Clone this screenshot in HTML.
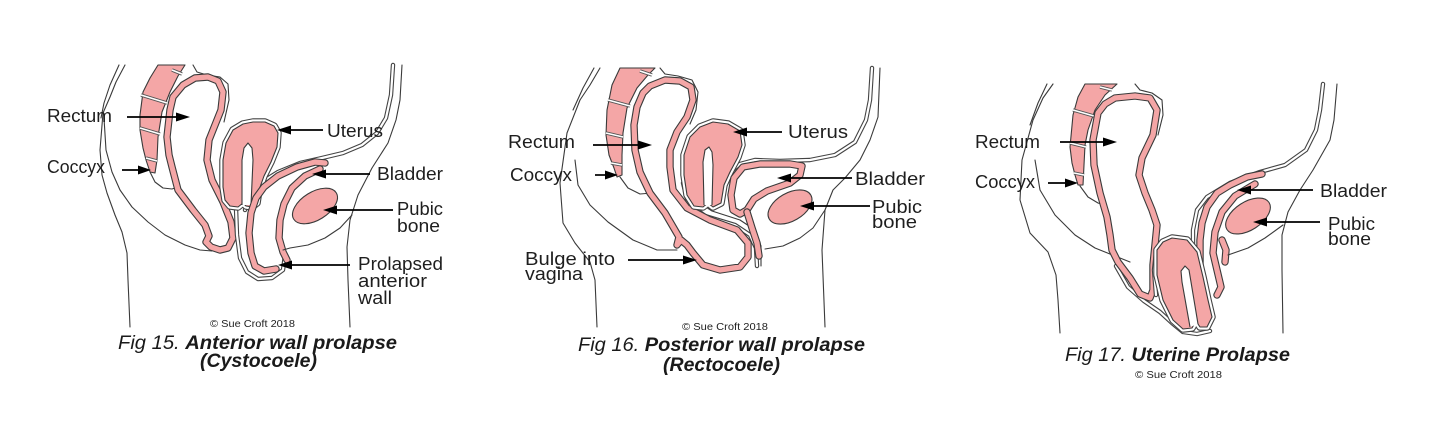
<!DOCTYPE html>
<html><head><meta charset="utf-8"><style>
html,body{margin:0;padding:0;background:#fff}
svg{display:block}
.ln{fill:none;stroke:#3a3a3a;stroke-width:1.1;stroke-linejoin:round;stroke-linecap:round}
.to{fill:none;stroke:#3a3a3a;stroke-width:7.4;stroke-linejoin:round;stroke-linecap:round}
.ti{fill:none;stroke:#f4a6a6;stroke-width:5.2;stroke-linejoin:round;stroke-linecap:round}
.d1{fill:none;stroke:#444;stroke-width:4.4;stroke-linejoin:round;stroke-linecap:round}
.d2{fill:none;stroke:#fff;stroke-width:2.2;stroke-linejoin:round;stroke-linecap:round}
.uo{fill:none;stroke:#444;stroke-width:7.5;stroke-linejoin:round}
.uw{fill:none;stroke:#fff;stroke-width:5.3;stroke-linejoin:round}
.pk{fill:#f4a6a6;stroke:#3a3a3a;stroke-width:1.1;stroke-linejoin:round}
.sl{fill:#fff;stroke:#3a3a3a;stroke-width:1.1;stroke-linejoin:round}
.sep1{stroke:#555;stroke-width:3.4;fill:none}
.sep2{stroke:#fff;stroke-width:1.6;fill:none}
.ar{stroke:#000;stroke-width:1.7;fill:none}
.ah{fill:#000}
.lb{font-family:"Liberation Sans",Arial,sans-serif;font-size:18px;fill:#1e1e1e}
.cp{font-family:"Liberation Sans",Arial,sans-serif;font-size:10px;fill:#222}
.fg{font-family:"Liberation Sans",Arial,sans-serif;font-size:19px;font-style:italic;fill:#1a1a1a}
.b{font-weight:bold}
</style></head><body>
<svg width="1442" height="429" viewBox="0 0 1442 429" xmlns="http://www.w3.org/2000/svg">
<rect width="1442" height="429" fill="#fff"/>
<defs>
<path id="r1" d="M173,97 L170,110 L167,137 L169,155 L172,167 L178,190 L193,210 L205,225 L209,236 L206,242 L211,247 L220,250 L228,248 L233,238 L231,222 L223,202 L212,180 L207,160 L209,140 L215,125 L221,110 L223,92 L218,81 L208,77 L195,78 L183,85 Z"/>
<path id="u1" d="M233,130 L243,124 L253,122 L265,122 L274,126 L278,133 L277,147 L271,162 L264,176 L259,190 L257,203 L252,207 L246,206 L243,203 L238,207 L230,206 L225,200 L223,187 L223,160 L226,143 Z"/>
<path id="r2" d="M643,93 L650,86 L665,80 L680,81 L691,87 L693,100 L687,117 L677,132 L670,150 L670,167 L673,190 L687,208 L710,220 L737,230 L748,243 L748,257 L740,267 L720,270 L703,265 L693,253 L687,245 L681,240 L677,245 L679,237 L665,213 L650,193 L640,172 L635,150 L634,125 L637,107 Z"/>
<path id="u2" d="M690,137 L700,127 L713,122 L728,124 L740,131 L742,145 L738,157 L730,172 L724,185 L721,203 L713,207 L708,203 L703,207 L694,206 L687,195 L684,175 L684,155 Z"/>
<path id="r3" d="M1098,113 L1105,104 L1115,98 L1135,96 L1150,98 L1157,110 L1153,135 L1142,158 L1139,175 L1145,193 L1152,210 L1157,225 L1155,245 L1153,265 L1153,290 L1150,298 L1140,294 L1130,278 L1118,262 L1112,250 L1110,235 L1107,217 L1100,193 L1094,165 L1093,140 Z"/>
<path id="u3" d="M1157,250 L1163,242 L1172,238 L1187,240 L1197,252 L1203,277 L1208,300 L1212,317 L1207,327 L1200,327 L1196,321 L1192,328 L1183,329 L1173,320 L1163,300 L1157,275 Z"/>
</defs>

<!-- ================= FIG 1 ================= -->
<path class="ln" d="M125,65 L116,82 L110,97 L103,113 L100,150 L102,175 L107,193 L115,215 L122,232 L127,253 L128,280 L130,327"/>
<path class="ln" d="M119,65 L110,85 L104,103 L101,118"/>
<path class="ln" d="M104,118 L106,150 L112,172 L120,190 L132,207 L148,222 L165,235 L185,245 L200,250 L212,251"/>
<path class="ln" d="M150,172 L155,182 L163,188 L172,189 L178,187"/>
<path class="ln" d="M193,65 L197,72 L207,75 L220,77 L228,84 L229,100 L224,122"/>
<!-- sacrum -->
<path class="pk" d="M158,65 L150,78 L143,92 L140,115 L140,130 L143,148 L146,160 L150,172 L155,173 L157,160 L158,137 L162,112 L170,92 L178,76 L185,65 Z"/>
<path class="sep1" d="M172,70 L182,74 M141,95 L167,103 M140,128 L160,134 M146,158 L157,161"/>
<path class="sep2" d="M172,70 L182,74 M141,95 L167,103 M140,128 L160,134 M146,158 L157,161"/>
<!-- rectum -->
<use href="#r1" class="to"/><use href="#r1" class="ti"/>
<!-- abdominal double line -->
<path class="d1" d="M393,65 L391,95 L386,118 L377,133 L362,145 L343,153 L322,158 L300,163 L278,172 L262,182 L252,193 L245,210"/>
<path class="d2" d="M393,65 L391,95 L386,118 L377,133 L362,145 L343,153 L322,158 L300,163 L278,172 L262,182 L252,193 L245,210"/>
<!-- vagina double line -->
<path class="d1" d="M236,208 L237,235 L240,258 L247,272 L258,279 L272,278 L283,270 L285,255"/>
<path class="d2" d="M236,208 L237,235 L240,258 L247,272 L258,279 L272,278 L283,270 L285,255"/>
<!-- uterus -->
<use href="#u1" class="uo"/><use href="#u1" class="uw"/><use href="#u1" class="pk"/>
<path class="sl" d="M242,205 L242,160 L244,148 L248,143 L252,148 L253,160 L251,205"/>
<!-- bladder bands -->
<path class="to" d="M325,163 L315,162 L297,167 L278,176 L264,187 L256,198 L251,213 L249,233 L251,253 L255,266 L264,271 L276,269"/>
<path class="ti" d="M325,163 L315,162 L297,167 L278,176 L264,187 L256,198 L251,213 L249,233 L251,253 L255,266 L264,271 L276,269"/>
<path class="to" d="M320,169 L305,176 L292,188 L284,204 L280,220 L279,238 L283,252 L287,260"/>
<path class="ti" d="M320,169 L305,176 L292,188 L284,204 L280,220 L279,238 L283,252 L287,260"/>
<!-- front lines -->
<path class="ln" d="M402,65 L400,100 L396,120 L388,143 L372,168 L358,195 L350,220 L347,247 L348,280 L350,327"/>
<path class="ln" d="M352,215 L340,228 L325,238 L308,245 L290,248 L283,250"/>
<ellipse class="pk" cx="315" cy="206" rx="25" ry="14" transform="rotate(-32 315 206)"/>
<!-- arrows fig1 -->
<path class="ar" d="M127,117 L180,117"/><polygon class="ah" points="190,117 176,112.5 176,121.5"/>
<path class="ar" d="M122,170 L142,170"/><polygon class="ah" points="151,170 138,165.5 138,174.5"/>
<path class="ar" d="M323,130 L287,130"/><polygon class="ah" points="277,130 291,125.5 291,134.5"/>
<path class="ar" d="M370,174 L322,174"/><polygon class="ah" points="312,174 326,169.5 326,178.5"/>
<path class="ar" d="M393,210 L333,210"/><polygon class="ah" points="323,210 337,205.5 337,214.5"/>
<path class="ar" d="M350,265 L288,265"/><polygon class="ah" points="278,265 292,260.5 292,269.5"/>
<!-- labels fig1 -->
<text class="lb" x="47" y="122" textLength="65" lengthAdjust="spacingAndGlyphs">Rectum</text>
<text class="lb" x="47" y="173" textLength="58" lengthAdjust="spacingAndGlyphs">Coccyx</text>
<text class="lb" x="327" y="137" textLength="56" lengthAdjust="spacingAndGlyphs">Uterus</text>
<text class="lb" x="377" y="180" textLength="66" lengthAdjust="spacingAndGlyphs">Bladder</text>
<text class="lb" x="397" y="215" textLength="46" lengthAdjust="spacingAndGlyphs">Pubic</text>
<text class="lb" x="397" y="232" textLength="43" lengthAdjust="spacingAndGlyphs">bone</text>
<text class="lb" x="358" y="270" textLength="85" lengthAdjust="spacingAndGlyphs">Prolapsed</text>
<text class="lb" x="358" y="287" textLength="69" lengthAdjust="spacingAndGlyphs">anterior</text>
<text class="lb" x="358" y="304" textLength="34" lengthAdjust="spacingAndGlyphs">wall</text>
<text class="cp" x="210" y="327" textLength="85" lengthAdjust="spacingAndGlyphs">© Sue Croft 2018</text>
<text class="fg" x="118" y="349" textLength="279" lengthAdjust="spacingAndGlyphs">Fig 15. <tspan class="b">Anterior wall prolapse</tspan></text>
<text class="fg b" x="200" y="367" textLength="117" lengthAdjust="spacingAndGlyphs">(Cystocoele)</text>

<!-- ================= FIG 2 ================= -->
<path class="ln" d="M600,68 L590,85 L580,100 L567,133 L560,183 L563,223 L575,243 L590,262 L595,280 L597,327"/>
<path class="ln" d="M594,68 L583,88 L573,110"/>
<path class="ln" d="M575,160 L578,185 L590,205 L608,222 L633,240 L657,250 L677,250"/>
<path class="ln" d="M620,177 L628,188 L640,194 L652,193"/>
<path class="ln" d="M660,68 L665,74 L678,76 L692,80 L698,92 L696,110 L690,124"/>
<path class="pk" d="M620,68 L612,85 L607,110 L606,135 L609,155 L614,168 L617,177 L622,175 L622,155 L623,133 L627,108 L637,88 L648,75 L655,68 Z"/>
<path class="sep1" d="M640,71 L652,75 M608,100 L630,106 M606,133 L623,137 M611,163 L622,165"/>
<path class="sep2" d="M640,71 L652,75 M608,100 L630,106 M606,133 L623,137 M611,163 L622,165"/>
<!-- vaginal multi lines -->
<path class="d1" d="M683,183 L688,203 L705,216 L735,225 L750,235 L756,248 L757,266"/>
<path class="d2" d="M683,183 L688,203 L705,216 L735,225 L750,235 L756,248 L757,266"/>
<path class="ln" d="M689,180 L694,199 L712,211 L740,220 L755,230 L761,246 L761,266"/>
<use href="#r2" class="to"/><use href="#r2" class="ti"/>
<path class="d1" d="M872,68 L870,100 L866,120 L855,142 L835,155 L810,160 L780,161 L755,160 L740,164 L730,172"/>
<path class="d2" d="M872,68 L870,100 L866,120 L855,142 L835,155 L810,160 L780,161 L755,160 L740,164 L730,172"/>
<use href="#u2" class="uo"/><use href="#u2" class="uw"/><use href="#u2" class="pk"/>
<path class="sl" d="M704,205 L703,162 L705,150 L709,147 L712,152 L713,165 L712,205"/>
<!-- bladder fig2 -->
<path class="to" d="M802,166 L790,164 L760,164 L743,167 L734,178 L731,195 L733,210 L740,214 L747,210 L754,199 L767,191 L790,183 L800,175 Z"/>
<path class="ti" d="M802,166 L790,164 L760,164 L743,167 L734,178 L731,195 L733,210 L740,214 L747,210 L754,199 L767,191 L790,183 L800,175 Z"/>
<path class="to" d="M747,212 L752,228 L757,243 L759,256"/>
<path class="ti" d="M747,212 L752,228 L757,243 L759,256"/>
<path class="ln" d="M880,68 L878,117 L870,140 L860,160 L845,178 L833,190 L825,210 L822,250 L825,327"/>
<path class="ln" d="M825,210 L813,228 L800,238 L783,246 L765,249"/>
<ellipse class="pk" cx="790" cy="207" rx="24" ry="14" transform="rotate(-30 790 207)"/>
<!-- arrows fig2 -->
<path class="ar" d="M593,145 L642,145"/><polygon class="ah" points="652,145 638,140.5 638,149.5"/>
<path class="ar" d="M595,175 L609,175"/><polygon class="ah" points="618,175 605,170.5 605,179.5"/>
<path class="ar" d="M782,132 L743,132"/><polygon class="ah" points="733,132 747,127.5 747,136.5"/>
<path class="ar" d="M852,178 L787,178"/><polygon class="ah" points="777,178 791,173.5 791,182.5"/>
<path class="ar" d="M870,206 L810,206"/><polygon class="ah" points="800,206 814,201.5 814,210.5"/>
<path class="ar" d="M628,260 L687,260"/><polygon class="ah" points="697,260 683,255.5 683,264.5"/>
<!-- labels fig2 -->
<text class="lb" x="508" y="148" textLength="67" lengthAdjust="spacingAndGlyphs">Rectum</text>
<text class="lb" x="510" y="181" textLength="62" lengthAdjust="spacingAndGlyphs">Coccyx</text>
<text class="lb" x="788" y="138" textLength="60" lengthAdjust="spacingAndGlyphs">Uterus</text>
<text class="lb" x="855" y="185" textLength="70" lengthAdjust="spacingAndGlyphs">Bladder</text>
<text class="lb" x="872" y="213" textLength="50" lengthAdjust="spacingAndGlyphs">Pubic</text>
<text class="lb" x="872" y="228" textLength="45" lengthAdjust="spacingAndGlyphs">bone</text>
<text class="lb" x="525" y="265" textLength="90" lengthAdjust="spacingAndGlyphs">Bulge into</text>
<text class="lb" x="525" y="280" textLength="58" lengthAdjust="spacingAndGlyphs">vagina</text>
<text class="cp" x="682" y="330" textLength="86" lengthAdjust="spacingAndGlyphs">© Sue Croft 2018</text>
<text class="fg" x="578" y="351" textLength="287" lengthAdjust="spacingAndGlyphs">Fig 16. <tspan class="b">Posterior wall prolapse</tspan></text>
<text class="fg b" x="663" y="371" textLength="117" lengthAdjust="spacingAndGlyphs">(Rectocoele)</text>

<!-- ================= FIG 3 ================= -->
<path class="ln" d="M1053,84 L1043,98 L1033,120 L1022,160 L1020,200 L1030,233 L1048,252 L1056,275 L1058,300 L1060,333"/>
<path class="ln" d="M1047,84 L1038,103 L1030,125"/>
<path class="ln" d="M1035,160 L1040,190 L1055,215 L1075,235 L1095,248 L1115,256 L1130,262"/>
<path class="ln" d="M1080,186 L1088,197 L1098,203 L1107,206"/>
<path class="ln" d="M1135,84 L1140,90 L1152,93 L1162,100 L1163,115 L1158,135"/>
<path class="pk" d="M1085,84 L1078,97 L1073,115 L1070,147 L1072,163 L1075,175 L1078,185 L1083,185 L1084,165 L1085,145 L1088,130 L1095,110 L1105,95 L1117,84 Z"/>
<path class="sep1" d="M1100,87 L1112,90 M1073,110 L1094,116 M1070,143 L1086,147 M1074,173 L1084,175"/>
<path class="sep2" d="M1100,87 L1112,90 M1073,110 L1094,116 M1070,143 L1086,147 M1074,173 L1084,175"/>
<!-- lower double lines -->
<path class="d1" d="M1116,266 L1128,287 L1144,301 L1160,312 L1172,323 L1183,332 L1197,334 L1210,331"/>
<path class="d2" d="M1116,266 L1128,287 L1144,301 L1160,312 L1172,323 L1183,332 L1197,334 L1210,331"/>
<use href="#r3" class="to"/><use href="#r3" class="ti"/>
<path class="d1" d="M1323,84 L1320,110 L1316,130 L1306,150 L1285,165 L1260,172 L1230,183 L1207,197 L1197,210 L1193,230 L1193,260 L1197,290 L1205,325"/>
<path class="d2" d="M1323,84 L1320,110 L1316,130 L1306,150 L1285,165 L1260,172 L1230,183 L1207,197 L1197,210 L1193,230 L1193,260 L1197,290 L1205,325"/>
<path class="d1" d="M1156,252 L1154,270 L1156,295"/>
<path class="d2" d="M1156,252 L1154,270 L1156,295"/>
<!-- bladder bands fig3 -->
<path class="to" d="M1262,174 L1247,177 L1230,185 L1217,193 L1207,207 L1202,223 L1200,240 L1200,267 L1203,287 L1208,303 L1210,318"/>
<path class="ti" d="M1262,174 L1247,177 L1230,185 L1217,193 L1207,207 L1202,223 L1200,240 L1200,267 L1203,287 L1208,303 L1210,318"/>
<path class="to" d="M1255,184 L1235,196 L1222,212 L1215,232 L1213,253 L1217,270 L1221,287 L1217,295"/>
<path class="ti" d="M1255,184 L1235,196 L1222,212 L1215,232 L1213,253 L1217,270 L1221,287 L1217,295"/>
<path class="to" d="M1222,240 L1226,250 L1225,262"/>
<path class="ti" d="M1222,240 L1226,250 L1225,262"/>
<use href="#u3" class="uo"/><use href="#u3" class="uw"/><use href="#u3" class="pk"/>
<path class="sl" d="M1190,327 L1182,282 L1181,271 L1185,266 L1189,270 L1198,324"/>
<path class="ln" d="M1337,84 L1334,120 L1330,140 L1313,170 L1300,190 L1288,212 L1282,235 L1282,270 L1283,333"/>
<path class="ln" d="M1283,225 L1265,238 L1248,248 L1228,255"/>
<ellipse class="pk" cx="1248" cy="216" rx="25" ry="14" transform="rotate(-33 1248 216)"/>
<!-- arrows fig3 -->
<path class="ar" d="M1060,142 L1107,142"/><polygon class="ah" points="1117,142 1103,137.5 1103,146.5"/>
<path class="ar" d="M1048,183 L1069,183"/><polygon class="ah" points="1078,183 1065,178.5 1065,187.5"/>
<path class="ar" d="M1313,190 L1247,190"/><polygon class="ah" points="1237,190 1251,185.5 1251,194.5"/>
<path class="ar" d="M1320,222 L1263,222"/><polygon class="ah" points="1253,222 1267,217.5 1267,226.5"/>
<!-- labels fig3 -->
<text class="lb" x="975" y="148" textLength="65" lengthAdjust="spacingAndGlyphs">Rectum</text>
<text class="lb" x="975" y="188" textLength="60" lengthAdjust="spacingAndGlyphs">Coccyx</text>
<text class="lb" x="1320" y="197" textLength="67" lengthAdjust="spacingAndGlyphs">Bladder</text>
<text class="lb" x="1328" y="230" textLength="47" lengthAdjust="spacingAndGlyphs">Pubic</text>
<text class="lb" x="1328" y="245" textLength="43" lengthAdjust="spacingAndGlyphs">bone</text>
<text class="fg" x="1065" y="361" textLength="225" lengthAdjust="spacingAndGlyphs">Fig 17. <tspan class="b">Uterine Prolapse</tspan></text>
<text class="cp" x="1135" y="378" textLength="87" lengthAdjust="spacingAndGlyphs">© Sue Croft 2018</text>
</svg>
</body></html>
